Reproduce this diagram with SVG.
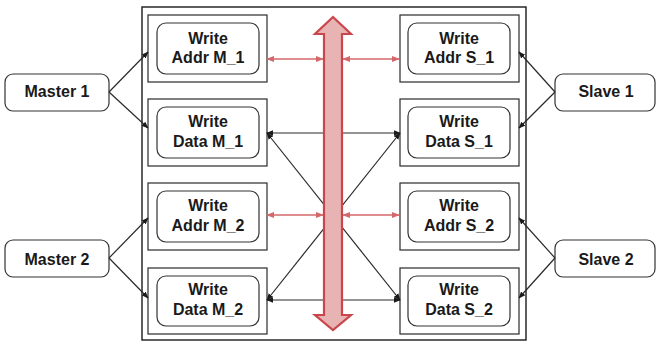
<svg xmlns="http://www.w3.org/2000/svg" width="656" height="342" viewBox="0 0 656 342">
  <style>
    .frame { fill: #ffffff; stroke: #1a1a1a; stroke-width: 1.4; }
    .slot { fill: #ffffff; stroke: #2a2a2a; stroke-width: 1.2; }
    .unit { fill: #ffffff; stroke: #333333; stroke-width: 1.2; }
    .ext { fill: #ffffff; stroke: #333333; stroke-width: 1.2; }
    .lbl { font-family: "Liberation Sans", Arial, sans-serif; font-weight: bold; font-size: 16px; fill: #1a1a1a; text-anchor: middle; }
    .blk { stroke: #2a2a2a; stroke-width: 1.2; fill: none; }
    .red { stroke: #d4676a; stroke-width: 1.4; fill: none; }
    .bus { fill: #e8b3b3; stroke: #c9474c; stroke-width: 2.2; stroke-linejoin: miter; }
  </style>
  <defs>
    <marker id="ab" viewBox="0 0 10 10" refX="9" refY="5" markerWidth="7" markerHeight="7" markerUnits="userSpaceOnUse" orient="auto-start-reverse">
      <path d="M0,1 L10,5 L0,9 z" fill="#1a1a1a"/>
    </marker>
    <marker id="ar" viewBox="0 0 10 10" refX="9" refY="5" markerWidth="8" markerHeight="8" markerUnits="userSpaceOnUse" orient="auto-start-reverse">
      <path d="M0,1 L10,5 L0,9 z" fill="#d4676a"/>
    </marker>
  </defs>

  <!-- interconnect frame -->
  <rect class="frame" x="142" y="7" width="384" height="333"/>

  <!-- channel nodes -->
  <g id="addr-m1">
    <rect class="slot" x="148" y="15" width="119" height="67"/>
    <rect class="unit" x="157" y="23" width="102" height="51" rx="9"/>
    <text class="lbl" x="208" y="44">Write</text>
    <text class="lbl" x="208" y="63">Addr M_1</text>
  </g>
  <g id="data-m1">
    <rect class="slot" x="148" y="99" width="119" height="67"/>
    <rect class="unit" x="157" y="107" width="102" height="51" rx="9"/>
    <text class="lbl" x="208" y="127">Write</text>
    <text class="lbl" x="208" y="147">Data M_1</text>
  </g>
  <g id="addr-m2">
    <rect class="slot" x="148" y="183" width="119" height="67"/>
    <rect class="unit" x="157" y="191" width="102" height="51" rx="9"/>
    <text class="lbl" x="208" y="211">Write</text>
    <text class="lbl" x="208" y="231">Addr M_2</text>
  </g>
  <g id="data-m2">
    <rect class="slot" x="148" y="268" width="119" height="66"/>
    <rect class="unit" x="157" y="276" width="102" height="50" rx="9"/>
    <text class="lbl" x="208" y="295">Write</text>
    <text class="lbl" x="208" y="315">Data M_2</text>
  </g>

  <g id="addr-s1">
    <rect class="slot" x="400" y="15" width="119" height="67"/>
    <rect class="unit" x="408" y="23" width="102" height="51" rx="9"/>
    <text class="lbl" x="459" y="44">Write</text>
    <text class="lbl" x="459" y="63">Addr S_1</text>
  </g>
  <g id="data-s1">
    <rect class="slot" x="400" y="99" width="119" height="67"/>
    <rect class="unit" x="408" y="107" width="102" height="51" rx="9"/>
    <text class="lbl" x="459" y="127">Write</text>
    <text class="lbl" x="459" y="147">Data S_1</text>
  </g>
  <g id="addr-s2">
    <rect class="slot" x="400" y="183" width="119" height="67"/>
    <rect class="unit" x="408" y="191" width="102" height="51" rx="9"/>
    <text class="lbl" x="459" y="211">Write</text>
    <text class="lbl" x="459" y="231">Addr S_2</text>
  </g>
  <g id="data-s2">
    <rect class="slot" x="400" y="268" width="119" height="66"/>
    <rect class="unit" x="408" y="276" width="102" height="50" rx="9"/>
    <text class="lbl" x="459" y="295">Write</text>
    <text class="lbl" x="459" y="315">Data S_2</text>
  </g>

  <!-- masters and slaves -->
  <g id="master1">
    <rect class="ext" x="5" y="74" width="104" height="37" rx="8"/>
    <text class="lbl" x="57" y="97">Master 1</text>
  </g>
  <g id="master2">
    <rect class="ext" x="5" y="240" width="104" height="37" rx="8"/>
    <text class="lbl" x="57" y="265">Master 2</text>
  </g>
  <g id="slave1">
    <rect class="ext" x="555" y="74" width="100" height="37" rx="8"/>
    <text class="lbl" x="606" y="97">Slave 1</text>
  </g>
  <g id="slave2">
    <rect class="ext" x="555" y="240" width="100" height="37" rx="8"/>
    <text class="lbl" x="606" y="265">Slave 2</text>
  </g>

  <!-- connectors -->
  <g id="connectors">
    <!-- master / slave fan-out -->
    <line class="blk" x1="109" y1="92" x2="148" y2="52" marker-end="url(#ab)"/>
    <line class="blk" x1="109" y1="92" x2="148" y2="128" marker-end="url(#ab)"/>
    <line class="blk" x1="109" y1="258" x2="148" y2="218" marker-end="url(#ab)"/>
    <line class="blk" x1="109" y1="258" x2="148" y2="298" marker-end="url(#ab)"/>
    <line class="blk" x1="555" y1="92" x2="519" y2="52" marker-end="url(#ab)"/>
    <line class="blk" x1="555" y1="92" x2="519" y2="128" marker-end="url(#ab)"/>
    <line class="blk" x1="555" y1="258" x2="519" y2="218" marker-end="url(#ab)"/>
    <line class="blk" x1="555" y1="258" x2="519" y2="298" marker-end="url(#ab)"/>

    <!-- data paths across the bus -->
    <line class="blk" x1="267" y1="133" x2="400" y2="133" marker-start="url(#ab)" marker-end="url(#ab)"/>
    <line class="blk" x1="267" y1="300" x2="400" y2="300" marker-start="url(#ab)" marker-end="url(#ab)"/>
    <line class="blk" x1="267" y1="133" x2="400" y2="300" marker-start="url(#ab)" marker-end="url(#ab)"/>
    <line class="blk" x1="267" y1="300" x2="400" y2="133" marker-start="url(#ab)" marker-end="url(#ab)"/>

    <!-- address paths to the bus -->
    <line class="red" x1="267" y1="59" x2="323" y2="59" marker-start="url(#ar)" marker-end="url(#ar)"/>
    <line class="red" x1="343" y1="59" x2="399" y2="59" marker-start="url(#ar)" marker-end="url(#ar)"/>
    <line class="red" x1="267" y1="215" x2="323" y2="215" marker-start="url(#ar)" marker-end="url(#ar)"/>
    <line class="red" x1="343" y1="215" x2="399" y2="215" marker-start="url(#ar)" marker-end="url(#ar)"/>

    <!-- shared bus -->
    <path class="bus" d="M333,17 L351,34 L342,34 L342,315 L351,315 L333,330 L315,315 L324,315 L324,34 L315,34 Z"/>
  </g>
</svg>
